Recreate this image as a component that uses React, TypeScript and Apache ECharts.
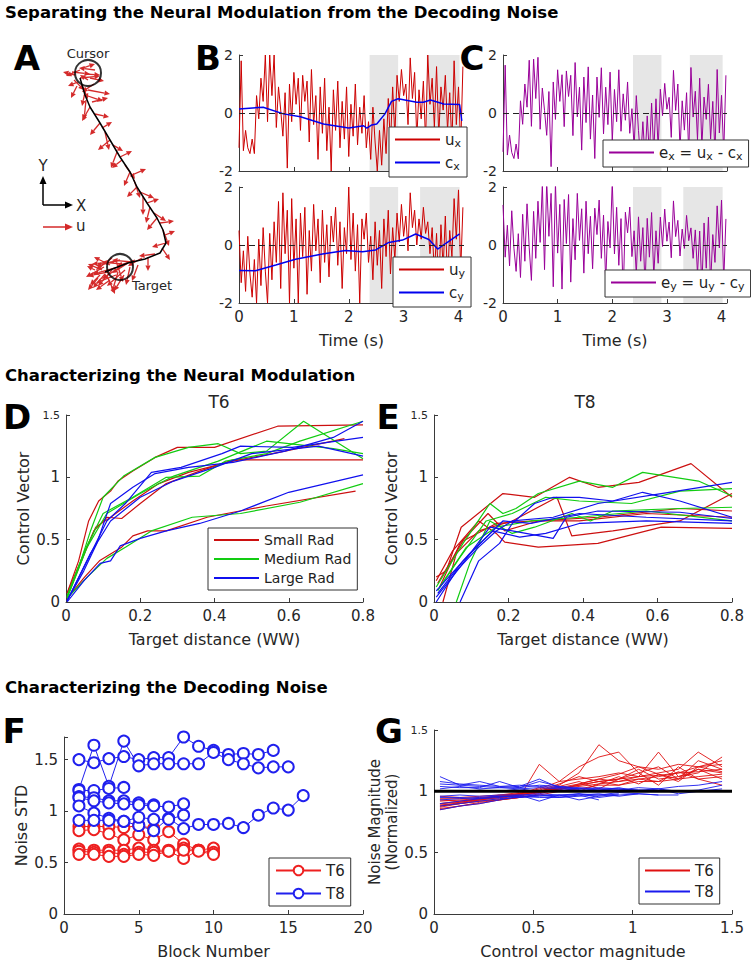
import React, { useEffect, useRef } from "react";
import * as echarts from "echarts";

const FONT = "DejaVu Sans";
const AXIS_COLOR = "#3a3a3a";
const TEXT_COLOR = "#262626";
const U_RED = "#cc0000";
const C_BLUE = "#0000ee";
const E_PURPLE = "#990099";
const D_RED = "#cc1010";
const D_GREEN = "#12cc12";
const D_BLUE = "#1010ee";
const F_RED = "#ee2020";
const F_BLUE = "#2020ee";
const ARROW_RED = "#d42a2a";

// ---------------- Panel A (workspace units, y up)
const trajectory = [
  [30, 222], [35, 205], [40, 193], [50, 177], [60, 160], [70, 143], [80, 128], [87, 113],
  [97, 97], [107, 82], [113, 70], [116, 57], [110, 47], [95, 41], [78, 37], [65, 32], [55, 28],
];
const cursorPos = [38, 227];
const targetPos = [70, 33];
// [x, y, dx, dy]
const controlArrows = [
  [25, 225, -12, 3], [30, 222, 20, 2], [28, 218, -10, -4], [35, 226, 15, -1], [32, 215, 6, -14],
  [38, 220, -8, 5], [27, 214, -6, -12], [40, 222, 14, -3], [22, 228, 18, -2], [45, 230, -16, 2],
  [33, 232, 12, 4], [24, 220, 10, -10], [44, 216, -12, -8], [36, 212, -4, -18], [30, 230, -14, -6],
  [35, 205, 18, -6], [36, 200, -2, -20], [38, 210, 22, -4], [42, 198, 16, 4],
  [40, 193, -8, -14], [45, 186, 14, -3], [50, 177, -10, -12], [52, 172, 10, 6], [55, 168, 4, -18],
  [60, 160, -12, -10], [63, 155, 10, -6], [67, 148, -6, -16], [70, 143, 12, 6], [72, 140, -10, -8],
  [75, 135, 10, -14], [80, 128, -6, -14], [82, 125, 14, 6], [84, 120, 6, -18], [87, 113, -10, -10],
  [90, 108, 14, -6], [93, 103, 0, -18], [97, 97, 12, 4], [100, 93, -4, -16], [104, 87, 12, -8],
  [107, 82, -10, -12], [110, 77, 14, 2], [113, 70, 6, -16], [115, 65, 10, 4], [116, 57, -14, -4],
  [112, 52, 8, -12], [105, 46, -16, -2], [98, 43, 0, -14], [92, 42, -14, -8], [85, 40, -18, -6],
  [78, 37, -16, -10], [72, 36, -20, 2], [70, 33, -18, -12], [65, 32, -22, -6], [62, 30, -14, -16],
  [58, 28, -20, -4], [60, 35, -16, 8], [55, 26, -12, -14], [68, 28, -6, -20], [75, 30, -18, -16],
  [52, 30, -14, 6], [64, 38, -22, -2], [57, 24, 8, -18], [80, 33, -4, -18], [66, 25, -20, -8],
  [50, 25, -10, -10], [48, 22, -10, -12], [70, 40, -24, -6], [60, 20, -14, -10], [74, 25, -10, -16],
  [45, 30, -8, 4], [82, 38, -20, 2], [67, 36, 6, -18], [54, 33, -18, -10], [88, 35, -6, -16],
  [62, 42, -16, -12],
];

// ---------------- Panels B and C (sampled every 0.04 s)
const sampleStep = 0.04;
const uX = [
  -1.2, 1.8, -1.3, -0.6, -1.2, -1.4, -0.9, -1.4, 0.6, -0.2,
  1.2, 0.4, 2.0, -0.3, 2.0, 0.6, 2.0, -0.5, 0.9, 0.1,
  -0.8, 0.7, -1.9, 1.0, -0.3, 1.4, 0.3, 1.2, -0.6, 1.3,
  0.4, 1.1, -1.0, 1.5, -0.4, 0.6, -1.6, 0.9, -0.7, 1.2,
  -1.3, 0.2, -2.0, 0.8, -0.6, 1.1, -1.2, 0.4, -0.9, 0.9,
  -1.5, 0.3, -0.8, 1.0, -1.1, 0.2, -0.7, 0.6, -1.2, -0.3,
  -1.6, 0.2, -1.0, -2.0, -0.6, -1.8, -0.2, -1.4, 0.5, -1.1,
  0.9, -0.8, 1.3, 0.4, 1.5, 0.6, 1.0, -0.4, 1.9, 0.5,
  1.4, -0.9, 0.8, -0.2, 1.1, -1.0, 2.0, 0.3, 1.2, -0.5,
  1.6, -0.8, 0.9, 0.1, 1.3, -0.6, 0.7, -1.1, 1.8, -0.4,
  0.9, -1.2, 1.6,
];
const uY = [
  0.5, -1.3, -0.2, -1.6, 0.3, -1.0, -1.8, -0.5, -2.0, 0.2,
  -1.4, 0.6, -0.9, -2.0, 0.4, -1.2, 0.8, -0.6, 1.5, -1.5,
  1.8, -0.3, 1.2, -2.0, 1.6, -0.8, 0.9, -2.0, 1.1, -0.4,
  1.3, -1.7, 0.5, -0.9, 1.4, -0.2, 0.9, -1.3, 1.2, -0.6,
  0.7, -1.1, 1.0, 0.1, 1.3, -0.7, 0.8, -1.5, 0.6, -0.3,
  2.0, -0.5, 1.1, -0.9, 0.7, -2.0, 0.9, 0.2, 1.1, -0.6,
  0.3, -1.2, 0.8, -0.7, 0.5, -1.5, 0.9, -0.4, 1.2, -1.0,
  0.6, -0.5, 1.1, 0.1, 1.4, 0.3, 1.0, -0.2, 1.8, 0.6,
  1.2, 0.0, 0.9, 0.2, 1.3, 0.4, 0.8, -0.3, 0.6, -1.0,
  0.4, -1.6, 0.7, -0.8, 1.0, -1.3, 0.5, -0.4, 1.6, 0.2,
  1.9, -0.9, 1.3,
];
const eX = [
  -1.34, 1.65, -1.45, -0.76, -1.36, -1.57, -1.07, -1.58, 0.42, -0.39,
  1.0, 0.2, 1.82, -0.46, 1.86, 0.5, 1.92, -0.56, 0.86, 0.09,
  -0.77, 0.74, -1.85, 1.07, -0.22, 1.49, 0.4, 1.32, -0.47, 1.45,
  0.57, 1.3, -0.78, 1.74, -0.13, 0.89, -1.28, 1.24, -0.33, 1.59,
  -0.9, 0.62, -1.57, 1.24, -0.15, 1.56, -0.72, 0.89, -0.4, 1.41,
  -0.98, 0.81, -0.3, 1.49, -0.63, 0.66, -0.25, 1.07, -0.7, 0.15,
  -1.18, 0.6, -0.61, -1.63, -0.3, -1.6, -0.1, -1.44, 0.34, -1.4,
  0.49, -1.24, 0.82, -0.09, 1.02, 0.13, 0.54, -0.84, 1.47, 0.09,
  1.0, -1.27, 0.42, -0.59, 0.7, -1.42, 1.57, -0.14, 0.75, -0.92,
  1.2, -1.18, 0.55, -0.22, 0.99, -0.9, 0.4, -1.4, 1.5, -0.69,
  0.61, -1.4, 1.3,
];
const eY = [
  1.38, -0.42, 0.68, -0.72, 1.18, -0.11, -0.91, 0.39, -1.12, 1.06,
  -0.56, 1.42, -0.1, -1.22, 1.16, -0.46, 1.51, 0.09, 2.1, -0.85,
  2.2, 0.3, 1.78, -1.44, 2.14, -0.28, 1.4, -1.52, 1.57, 0.05,
  1.74, -1.28, 0.91, -0.51, 1.78, 0.16, 1.25, -0.97, 1.51, -0.3,
  0.99, -0.82, 1.27, 0.36, 1.55, -0.46, 1.03, -1.28, 0.81, -0.1,
  2.19, -0.31, 1.3, -0.7, 0.91, -1.78, 1.13, 0.42, 1.31, -0.4,
  0.49, -1.02, 0.97, -0.56, 0.6, -1.44, 0.92, -0.42, 1.12, -1.1,
  0.49, -0.63, 0.96, -0.05, 1.24, 0.13, 0.79, -0.44, 1.52, 0.29,
  0.85, -0.38, 0.55, -0.12, 1.02, 0.15, 0.59, -0.46, 0.52, -1.0,
  0.48, -1.47, 0.76, -0.8, 0.96, -1.38, 0.36, -0.6, 1.35, -0.1,
  1.55, -1.28, 0.9,
];
const cXTime = [0, 0.44, 0.81, 1.12, 1.54, 2.0, 2.27, 2.33, 2.42, 2.51, 2.66, 2.78, 2.9, 3.24, 3.36, 3.49, 3.73, 4.02, 4.06];
const cXVal = [0.14, 0.2, -0.03, -0.13, -0.38, -0.52, -0.44, -0.52, -0.41, -0.38, -0.03, 0.4, 0.49, 0.37, 0.37, 0.45, 0.31, 0.29, -0.27];
const cYTime = [0, 0.3, 0.67, 1.03, 1.52, 1.94, 2.25, 2.49, 2.73, 2.98, 3.22, 3.46, 3.62, 3.77, 4.02];
const cYVal = [-0.88, -0.89, -0.69, -0.49, -0.31, -0.19, -0.23, -0.17, 0.09, 0.17, 0.38, 0.19, -0.14, 0.06, 0.38];
const shadeTop = [[2.38, 2.9], [3.42, 4.02]];
const shadeBottom = [[2.38, 2.9], [3.3, 4.02]];
const timeTicks = { min: 0, max: 4.1, interval: 1 };

// ---------------- Panel D (T6)
const dSmall = [
  [[0.003, 0.07], [0.034, 0.33], [0.061, 0.65], [0.088, 0.81], [0.12, 0.89], [0.14, 0.97], [0.18, 1.05], [0.24, 1.16], [0.3, 1.24], [0.4, 1.24], [0.57, 1.41], [0.8, 1.42]],
  [[0.003, 0.04], [0.05, 0.39], [0.08, 0.6], [0.12, 0.68], [0.18, 0.81], [0.25, 0.95], [0.33, 1.04], [0.45, 1.13], [0.59, 1.21], [0.75, 1.31]],
  [[0.003, 0.07], [0.04, 0.33], [0.075, 0.57], [0.11, 0.68], [0.15, 0.67], [0.2, 0.79], [0.27, 0.95], [0.36, 1.05], [0.45, 1.14], [0.8, 1.14]],
  [[0.003, 0.03], [0.05, 0.2], [0.09, 0.33], [0.15, 0.44], [0.18, 0.53], [0.22, 0.57], [0.27, 0.57], [0.38, 0.68], [0.54, 0.77], [0.78, 0.89]],
];
const dMedium = [
  [[0.003, 0.05], [0.04, 0.33], [0.066, 0.57], [0.1, 0.84], [0.155, 1.01], [0.24, 1.16], [0.33, 1.24], [0.41, 1.27], [0.47, 1.19], [0.54, 1.21], [0.64, 1.45], [0.8, 1.15]],
  [[0.003, 0.04], [0.05, 0.41], [0.1, 0.71], [0.18, 0.84], [0.27, 1.0], [0.36, 1.01], [0.43, 1.13], [0.54, 1.19], [0.63, 1.29], [0.8, 1.45]],
  [[0.003, 0.03], [0.057, 0.44], [0.11, 0.71], [0.2, 0.87], [0.29, 1.01], [0.41, 1.13], [0.54, 1.29], [0.72, 1.23], [0.8, 1.19]],
  [[0.003, 0.03], [0.057, 0.2], [0.11, 0.35], [0.16, 0.44], [0.23, 0.57], [0.34, 0.68], [0.47, 0.71], [0.63, 0.8], [0.8, 0.95]],
];
const dLarge = [
  [[0.003, 0.01], [0.048, 0.25], [0.083, 0.47], [0.12, 0.79], [0.18, 0.92], [0.24, 1.03], [0.33, 1.08], [0.45, 1.12], [0.59, 1.21], [0.72, 1.32], [0.8, 1.45]],
  [[0.003, 0.01], [0.057, 0.33], [0.11, 0.65], [0.16, 0.79], [0.23, 1.04], [0.31, 1.08], [0.42, 1.19], [0.47, 1.25], [0.61, 1.24], [0.8, 1.32]],
  [[0.003, 0.01], [0.066, 0.39], [0.12, 0.65], [0.2, 0.84], [0.29, 0.97], [0.4, 1.08], [0.5, 1.19], [0.68, 1.25], [0.8, 1.17]],
  [[0.003, 0.0], [0.048, 0.17], [0.092, 0.31], [0.12, 0.33], [0.146, 0.45], [0.2, 0.51], [0.27, 0.57], [0.36, 0.63], [0.47, 0.73], [0.6, 0.88], [0.8, 1.02]],
];

// ---------------- Panel E (T8)
const eSmall = [
  [[0.006, 0.2], [0.033, 0.25], [0.073, 0.6], [0.185, 0.87], [0.27, 0.84], [0.364, 1.0], [0.44, 0.92], [0.55, 0.96], [0.69, 1.11], [0.8, 0.84]],
  [[0.024, 0.0], [0.06, 0.39], [0.12, 0.57], [0.21, 0.65], [0.33, 0.84], [0.37, 0.53], [0.48, 0.57], [0.66, 0.65], [0.8, 0.87]],
  [[0.006, 0.17], [0.05, 0.41], [0.12, 0.65], [0.167, 0.55], [0.19, 0.48], [0.28, 0.44], [0.44, 0.47], [0.61, 0.6], [0.8, 0.59]],
  [[0.015, 0.12], [0.07, 0.47], [0.145, 0.71], [0.19, 0.57], [0.28, 0.65], [0.44, 0.68], [0.66, 0.75], [0.8, 0.73]],
  [[0.01, 0.15], [0.078, 0.49], [0.167, 0.63], [0.27, 0.65], [0.39, 0.65], [0.57, 0.71], [0.8, 0.68]],
];
const eMedium = [
  [[0.006, 0.12], [0.078, 0.47], [0.15, 0.79], [0.185, 0.71], [0.22, 0.75], [0.28, 0.87], [0.39, 0.97], [0.48, 0.92], [0.56, 1.04], [0.71, 0.97], [0.8, 0.85]],
  [[0.01, 0.09], [0.07, 0.36], [0.14, 0.65], [0.21, 0.71], [0.3, 0.84], [0.39, 0.81], [0.53, 0.79], [0.66, 0.89], [0.8, 0.91]],
  [[0.06, 0.0], [0.096, 0.31], [0.15, 0.65], [0.21, 0.55], [0.27, 0.6], [0.37, 0.71], [0.42, 0.65], [0.48, 0.73], [0.66, 0.75], [0.8, 0.76]],
  [[0.015, 0.12], [0.087, 0.44], [0.167, 0.6], [0.26, 0.65], [0.39, 0.68], [0.57, 0.73], [0.8, 0.65]],
];
const eLarge = [
  [[0.07, 0.0], [0.12, 0.33], [0.176, 0.47], [0.21, 0.63], [0.27, 0.79], [0.32, 0.84], [0.39, 0.84], [0.48, 0.81], [0.56, 0.88], [0.66, 0.81], [0.8, 0.68]],
  [[0.006, 0.0], [0.06, 0.25], [0.12, 0.44], [0.167, 0.57], [0.21, 0.65], [0.32, 0.68], [0.44, 0.79], [0.61, 0.87], [0.8, 0.96]],
  [[0.01, 0.07], [0.078, 0.33], [0.158, 0.57], [0.23, 0.52], [0.3, 0.55], [0.39, 0.63], [0.57, 0.65], [0.8, 0.63]],
  [[0.006, 0.04], [0.07, 0.28], [0.15, 0.6], [0.21, 0.57], [0.32, 0.51], [0.355, 0.68], [0.44, 0.73], [0.66, 0.72], [0.8, 0.67]],
  [[0.006, 0.09], [0.096, 0.39], [0.185, 0.65], [0.26, 0.63], [0.39, 0.71], [0.57, 0.68], [0.8, 0.65]],
];

// ---------------- Panel F (block number vs noise STD)
const fT6 = [
  [[1, 0.85], [2, 0.85], [3, 0.85], [4, 0.84], [5, 0.86], [6, 0.83]],
  [[1, 0.81], [2, 0.82], [3, 0.78], [4, 0.72], [5, 0.77], [6, 0.72], [7, 0.8], [8, 0.68], [9, 0.62]],
  [[1, 0.63], [2, 0.62], [3, 0.62], [4, 0.62], [5, 0.64], [6, 0.62], [7, 0.62], [8, 0.64], [9, 0.62], [10, 0.64]],
  [[1, 0.61], [2, 0.6], [3, 0.6], [4, 0.58], [5, 0.6], [6, 0.6], [7, 0.61], [8, 0.54], [9, 0.62], [10, 0.6]],
  [[1, 0.58], [2, 0.58], [3, 0.56], [4, 0.56], [5, 0.58], [6, 0.57], [7, 0.61], [8, 0.62], [9, 0.61], [10, 0.58]],
];
const fT8 = [
  [[1, 1.5], [2, 1.47], [3, 1.51], [4, 1.53], [5, 1.5], [6, 1.52], [7, 1.52], [8, 1.72], [9, 1.63], [10, 1.59], [11, 1.55], [12, 1.56], [13, 1.55], [14, 1.59]],
  [[1, 1.21], [2, 1.64], [3, 1.24], [4, 1.68], [5, 1.44], [6, 1.46], [7, 1.46], [8, 1.46], [9, 1.46], [10, 1.57], [11, 1.5], [12, 1.46], [13, 1.42], [14, 1.43], [15, 1.43]],
  [[1, 1.2], [2, 1.2], [3, 1.22], [4, 1.23]],
  [[1, 1.14], [2, 1.13], [3, 1.1], [4, 1.1], [5, 1.08], [6, 1.06]],
  [[1, 1.13], [2, 1.1], [3, 1.08], [4, 1.07], [5, 1.06], [6, 1.05], [7, 1.04], [8, 1.07]],
  [[1, 1.05], [2, 0.98], [3, 0.93], [4, 0.9], [5, 0.86], [6, 0.81], [7, 0.93], [8, 0.83], [9, 0.87], [10, 0.87], [11, 0.88], [12, 0.84], [13, 0.96], [14, 1.03], [15, 1.01], [16, 1.15]],
  [[1, 0.91], [2, 0.91], [3, 0.91], [4, 0.9], [5, 0.94], [6, 0.92], [7, 0.92], [8, 0.96]],
];

// ---------------- Panel G (control magnitude vs normalized noise)
const gX = [0.03, 0.13, 0.23, 0.33, 0.43, 0.53, 0.63, 0.73, 0.83, 0.93, 1.03, 1.13, 1.23, 1.33, 1.45];
const gT6 = [
  [0.86, 0.88, 0.9, 0.93, 0.95, 0.98, 1.02, 1.05, 1.08, 1.1, 1.12, 1.13, 1.15, 1.16, 1.18],
  [0.88, 0.9, 0.92, 0.94, 0.97, 1.0, 1.05, 1.15, 1.38, 1.25, 1.2, 1.18, 1.22, 1.2, 1.25],
  [0.9, 0.91, 0.93, 0.95, 0.98, 1.02, 1.08, 1.2, 1.28, 1.32, 1.15, 1.2, 1.1, 1.18, 1.15],
  [0.92, 0.93, 0.94, 0.95, 0.96, 0.99, 1.03, 1.06, 1.1, 1.08, 1.12, 1.32, 1.12, 1.18, 1.1],
  [0.87, 0.9, 0.92, 0.93, 0.95, 1.22, 1.08, 1.1, 1.12, 1.15, 1.12, 1.15, 1.18, 1.32, 1.2],
  [0.94, 0.94, 0.95, 0.96, 0.97, 0.99, 1.02, 1.05, 1.08, 1.1, 1.18, 1.1, 1.12, 1.15, 1.28],
  [0.85, 0.88, 0.91, 0.93, 0.95, 0.97, 1.0, 1.02, 1.05, 1.05, 1.08, 1.08, 1.1, 1.12, 1.14],
  [0.9, 0.92, 0.93, 0.95, 0.97, 1.0, 1.04, 1.08, 1.02, 1.1, 1.15, 1.05, 1.2, 1.1, 1.12],
  [0.96, 0.95, 0.96, 0.97, 0.98, 1.0, 1.02, 1.04, 1.06, 1.08, 1.1, 1.12, 1.15, 1.2, 1.22],
  [0.89, 0.9, 0.93, 0.96, 0.98, 1.0, 1.03, 1.0, 1.06, 1.12, 1.06, 1.14, 1.08, 1.2, 1.16],
  [0.93, 0.92, 0.94, 0.97, 0.99, 1.01, 1.06, 1.12, 1.08, 1.05, 1.1, 1.08, 1.16, 1.1, 1.05],
  [0.88, 0.91, 0.94, 0.96, 0.98, 1.03, 1.01, 1.06, 1.1, 1.14, 1.2, 1.14, 1.1, 1.25, 1.18],
];
const gT8 = [
  [1.08, 1.06, 1.05, 1.04, 1.05, 1.04, 1.03, 1.02, 1.03, 1.02, 1.01, 1.0],
  [1.06, 1.05, 1.08, 1.04, 1.03, 1.08, 1.04, 1.03, 1.02, 1.02, 1.01, 1.02, 1.0, 1.01, 1.05],
  [1.04, 1.03, 1.03, 1.08, 1.03, 1.05, 1.04, 1.02, 1.01, 1.03, 1.0],
  [1.12, 1.05, 1.04, 1.03, 1.04, 1.1, 1.03, 1.02],
  [1.02, 1.04, 1.02, 1.03, 1.02, 1.03, 1.02, 1.01, 1.0, 1.01, 1.0, 1.02, 0.98, 1.0, 1.02],
  [0.96, 0.97, 0.96, 0.97, 0.97, 0.98, 0.97, 0.97, 0.98, 0.96, 0.98, 0.97],
  [0.93, 0.94, 0.95, 0.96, 0.96, 0.97, 0.95, 0.96, 0.97, 0.97, 0.98],
  [0.9, 0.92, 0.94, 0.95, 0.97, 0.92, 0.97, 0.93, 0.96, 0.98],
  [0.88, 0.9, 0.92, 0.94, 0.95, 0.96, 0.97, 0.98, 0.95, 0.97],
  [0.85, 0.88, 0.9, 0.93, 0.96, 0.95, 0.95, 0.97, 0.93],
  [0.95, 0.95, 0.94, 0.96, 0.95, 0.97, 0.96, 0.98, 0.97, 0.99, 0.98, 0.97, 0.97],
  [1.0, 1.0, 1.01, 1.0, 1.02, 1.0, 1.01, 1.0, 1.02, 1.01, 1.03, 1.02, 1.04, 1.05, 1.08],
];
const gReference = 1;

// ---------------- Text
const sectionTitles = [
  { text: "Separating the Neural Modulation from the Decoding Noise", x: 5, y: 12 },
  { text: "Characterizing the Neural Modulation", x: 5, y: 375 },
  { text: "Characterizing the Decoding Noise", x: 5, y: 687 },
];
const panelLetters = [
  { text: "A", x: 27, y: 58 }, { text: "B", x: 208, y: 58 }, { text: "C", x: 472, y: 58 },
  { text: "D", x: 17, y: 417 }, { text: "E", x: 388, y: 417 },
  { text: "F", x: 14, y: 731 }, { text: "G", x: 389, y: 731 },
];
const legendLabels: Record<string, string> = {
  "B:ux": "u{s|x}", "B:cx": "c{s|x}", "B:uy": "u{s|y}", "B:cy": "c{s|y}",
  "C:ex": "e{s|x} = u{s|x} - c{s|x}", "C:ey": "e{s|y} = u{s|y} - c{s|y}",
  "D:small": "Small Rad", "D:medium": "Medium Rad", "D:large": "Large Rad",
  "F:T6": "T6", "F:T8": "T8", "G:T6": "T6", "G:T8": "T8",
};

const grids = [
  { left: 50, top: 40, width: 130, height: 260 },
  { left: 239, top: 55, width: 225, height: 116 },
  { left: 239, top: 187, width: 225, height: 116 },
  { left: 503, top: 55, width: 224, height: 116 },
  { left: 503, top: 187, width: 224, height: 116 },
  { left: 66, top: 415, width: 297, height: 187 },
  { left: 434, top: 415, width: 298, height: 187 },
  { left: 64, top: 737, width: 299, height: 177 },
  { left: 434, top: 730, width: 298, height: 184 },
];

const intLabel = (v: number) => (Math.abs(v - Math.round(v)) < 1e-6 ? String(Math.round(v)) : "");
const smallTop = (top: number) => (v: number) => (Math.abs(v - top) < 1e-6 ? "{s|" + v + "}" : String(v));

function axis(gridIndex: number, opts: any) {
  const labelShow = opts.labelShow !== false;
  return {
    type: "value",
    gridIndex,
    min: opts.min,
    max: opts.max,
    interval: opts.interval,
    show: opts.show !== false,
    name: opts.name || "",
    nameLocation: "middle",
    nameGap: opts.nameGap || 28,
    nameTextStyle: {
      color: TEXT_COLOR, fontSize: opts.nameSize || 16, fontFamily: FONT, lineHeight: opts.nameLineHeight || 18,
    },
    axisLine: { show: true, onZero: false, lineStyle: { color: AXIS_COLOR, width: 1 } },
    axisTick: { show: true, inside: true, length: 4, lineStyle: { color: AXIS_COLOR } },
    splitLine: { show: false },
    axisLabel: {
      show: labelShow,
      color: TEXT_COLOR,
      fontSize: opts.labelSize || 15,
      lineHeight: opts.labelLineHeight,
      fontFamily: FONT,
      margin: 6,
      formatter: opts.formatter,
      rich: { s: { fontSize: 11, fontFamily: FONT, color: TEXT_COLOR } },
    },
  };
}

function legend(names: string[], left: number, top: number, extra: any = {}) {
  return {
    data: names,
    left,
    top,
    orient: "vertical",
    backgroundColor: "#ffffff",
    borderColor: "#333333",
    borderWidth: 1,
    borderRadius: 0,
    padding: [5, 6, 5, 6],
    itemGap: 6,
    itemWidth: 45,
    itemHeight: 2,
    icon: "rect",
    selectedMode: false,
    formatter: (n: string) => legendLabels[n] || n,
    textStyle: {
      fontFamily: FONT,
      fontSize: 15,
      color: "#222",
      rich: { s: { fontSize: 11, fontFamily: FONT, color: "#222", padding: [8, 0, 0, 0] } },
    },
    z: 20,
    ...extra,
  };
}

const pairs = (vals: number[]) => vals.map((v, i) => [Number((i * sampleStep).toFixed(2)), v]);
const zip = (xs: number[], ys: number[]) => ys.map((y, i) => [xs[i], y]);

function arrowItem(params: any, api: any) {
  const x = api.value(0), y = api.value(1), dx = api.value(2), dy = api.value(3);
  const p0 = api.coord([x, y]);
  const p1 = api.coord([x + dx, y + dy]);
  const ang = Math.atan2(p1[1] - p0[1], p1[0] - p0[0]);
  const h = 5.5, w = 2.6;
  const b = [p1[0] - h * Math.cos(ang), p1[1] - h * Math.sin(ang)];
  const l = [b[0] + w * Math.sin(ang), b[1] - w * Math.cos(ang)];
  const r = [b[0] - w * Math.sin(ang), b[1] + w * Math.cos(ang)];
  return {
    type: "group",
    children: [
      { type: "line", shape: { x1: p0[0], y1: p0[1], x2: b[0], y2: b[1] }, style: { stroke: ARROW_RED, lineWidth: 1.3 } },
      { type: "polygon", shape: { points: [p1, l, r] }, style: { fill: ARROW_RED } },
    ],
  };
}

function buildOption() {
  const series: any[] = [];
  // A
  series.push({ type: "custom", xAxisIndex: 0, yAxisIndex: 0, renderItem: arrowItem, data: controlArrows, z: 2, silent: true });
  series.push({ type: "line", xAxisIndex: 0, yAxisIndex: 0, data: trajectory, symbol: "none", lineStyle: { color: "#000", width: 1.5 }, z: 3, silent: true });
  series.push({
    type: "scatter", xAxisIndex: 0, yAxisIndex: 0, data: [cursorPos, targetPos], symbol: "circle", symbolSize: 26,
    itemStyle: { color: "rgba(0,0,0,0)", borderColor: "#000", borderWidth: 2 }, z: 4, silent: true,
  });

  const zeroLine = {
    silent: true, symbol: "none", label: { show: false },
    lineStyle: { color: "#222", type: [6, 4], width: 1 }, data: [{ yAxis: 0 }],
  };
  const timePanel = (gi: number, shade: number[][], main: number[], mainName: string, mainColor: string, smooth?: { t: number[]; v: number[]; name: string }) => {
    series.push({
      type: "line", xAxisIndex: gi, yAxisIndex: gi, data: [], z: 1, silent: true,
      markArea: { silent: true, itemStyle: { color: "#e6e6e6" }, data: shade.map(([a, b]) => [{ xAxis: a }, { xAxis: b }]) },
    });
    series.push({
      type: "line", name: mainName, xAxisIndex: gi, yAxisIndex: gi, data: pairs(main), symbol: "none",
      lineStyle: { color: mainColor, width: 1 }, itemStyle: { color: mainColor }, z: 2, silent: true,
      markLine: smooth ? undefined : zeroLine,
    });
    if (smooth) {
      series.push({
        type: "line", name: smooth.name, xAxisIndex: gi, yAxisIndex: gi, data: zip(smooth.t, smooth.v), symbol: "none",
        lineStyle: { color: C_BLUE, width: 1.5 }, itemStyle: { color: C_BLUE }, z: 3, silent: true,
        markLine: zeroLine,
      });
    }
  };
  timePanel(1, shadeTop, uX, "B:ux", U_RED, { t: cXTime, v: cXVal, name: "B:cx" });
  timePanel(2, shadeBottom, uY, "B:uy", U_RED, { t: cYTime, v: cYVal, name: "B:cy" });
  timePanel(3, shadeTop, eX, "C:ex", E_PURPLE);
  timePanel(4, shadeBottom, eY, "C:ey", E_PURPLE);

  const lineGroup = (gi: number, lines: number[][][], color: string, legendName: string | null, prefix: string, width = 1.2) => {
    lines.forEach((pts, i) => {
      series.push({
        type: "line", name: i === 0 && legendName ? legendName : prefix + i, xAxisIndex: gi, yAxisIndex: gi,
        data: pts, symbol: "none", lineStyle: { color, width }, itemStyle: { color }, silent: true, z: 2,
      });
    });
  };
  lineGroup(5, dSmall, D_RED, "D:small", "d-small-");
  lineGroup(5, dMedium, D_GREEN, "D:medium", "d-medium-");
  lineGroup(5, dLarge, D_BLUE, "D:large", "d-large-");
  lineGroup(6, eSmall, D_RED, null, "e-small-");
  lineGroup(6, eMedium, D_GREEN, null, "e-medium-");
  lineGroup(6, eLarge, D_BLUE, null, "e-large-");

  const markerGroup = (lines: number[][][], color: string, legendName: string, prefix: string) => {
    lines.forEach((pts, i) => {
      series.push({
        type: "line", name: i === 0 ? legendName : prefix + i, xAxisIndex: 7, yAxisIndex: 7, data: pts,
        symbol: "emptyCircle", symbolSize: 11, showSymbol: true,
        lineStyle: { color, width: 1 }, itemStyle: { color, borderColor: color, borderWidth: 1 }, silent: true, z: 2,
      });
    });
  };
  markerGroup(fT6, F_RED, "F:T6", "f-t6-");
  markerGroup(fT8, F_BLUE, "F:T8", "f-t8-");

  const thinGroup = (lines: number[][], color: string, legendName: string, prefix: string) => {
    lines.forEach((ys, i) => {
      series.push({
        type: "line", name: i === 0 ? legendName : prefix + i, xAxisIndex: 8, yAxisIndex: 8, data: zip(gX, ys),
        symbol: "none", lineStyle: { color, width: 0.9 }, itemStyle: { color }, silent: true, z: 2,
      });
    });
  };
  thinGroup(gT6, "#e01010", "G:T6", "g-t6-");
  thinGroup(gT8, "#1a1aee", "G:T8", "g-t8-");
  series.push({
    type: "line", xAxisIndex: 8, yAxisIndex: 8, data: [[0, gReference], [1.5, gReference]], symbol: "none",
    lineStyle: { color: "#000", width: 3 }, silent: true, z: 5,
  });

  const bcY = { min: -2, max: 2, interval: 2, labelSize: 14, labelLineHeight: 12 };
  const xAxes = [
    axis(0, { min: 0, max: 130, show: false }),
    axis(1, { ...timeTicks, labelShow: false }),
    axis(2, { ...timeTicks, formatter: intLabel, name: "Time (s)", nameGap: 28 }),
    axis(3, { ...timeTicks, labelShow: false }),
    axis(4, { ...timeTicks, formatter: intLabel, name: "Time (s)", nameGap: 28 }),
    axis(5, { min: 0, max: 0.8, interval: 0.2, name: "Target distance (WW)", nameGap: 28 }),
    axis(6, { min: 0, max: 0.8, interval: 0.2, name: "Target distance (WW)", nameGap: 28 }),
    axis(7, { min: 0, max: 20, interval: 5, name: "Block Number", nameGap: 28 }),
    axis(8, { min: 0, max: 1.5, interval: 0.5, name: "Control vector magnitude", nameGap: 28 }),
  ];
  const yAxes = [
    axis(0, { min: 0, max: 260, show: false }),
    axis(1, bcY),
    axis(2, bcY),
    axis(3, bcY),
    axis(4, bcY),
    axis(5, { min: 0, max: 1.5, interval: 0.5, formatter: smallTop(1.5), name: "Control Vector", nameGap: 33 }),
    axis(6, { min: 0, max: 1.5, interval: 0.5, formatter: smallTop(1.5), name: "Control Vector", nameGap: 33 }),
    axis(7, { min: 0, max: 1.72, interval: 0.5, formatter: (v: number) => (v > 1.6 ? "" : String(v)), name: "Noise STD", nameGap: 30 }),
    axis(8, {
      min: 0, max: 1.5, interval: 0.5, formatter: smallTop(1.5), name: "Noise Magnitude\n(Normalized)",
      nameGap: 18, nameLineHeight: 17, nameSize: 15,
    }),
  ];

  const graphic: any[] = [];
  sectionTitles.forEach((t) => graphic.push({
    type: "text", x: t.x, y: t.y, z: 50,
    style: { text: t.text, font: `bold 16.5px "${FONT}"`, fill: "#000", textAlign: "left", textVerticalAlign: "middle" },
  }));
  panelLetters.forEach((t) => graphic.push({
    type: "text", x: t.x, y: t.y, z: 50,
    style: { text: t.text, font: `bold 34px "${FONT}"`, fill: "#000", textAlign: "center", textVerticalAlign: "middle" },
  }));
  const plain = (text: string, x: number, y: number, size: number, align = "center") => ({
    type: "text", x, y, z: 50,
    style: { text, font: `${size}px "${FONT}"`, fill: TEXT_COLOR, textAlign: align, textVerticalAlign: "middle" },
  });
  graphic.push(plain("T6", 219, 402, 17));
  graphic.push(plain("T8", 585, 402, 17));
  graphic.push(plain("Cursor", 88, 53, 13));
  graphic.push(plain("Target", 152, 285, 13));
  // axis key in panel A
  graphic.push({ type: "line", z: 50, shape: { x1: 43, y1: 205, x2: 43, y2: 182 }, style: { stroke: "#000", lineWidth: 1.5 } });
  graphic.push({ type: "polygon", z: 50, shape: { points: [[43, 176], [39.5, 184], [46.5, 184]] }, style: { fill: "#000" } });
  graphic.push({ type: "line", z: 50, shape: { x1: 43, y1: 205, x2: 67, y2: 205 }, style: { stroke: "#000", lineWidth: 1.5 } });
  graphic.push({ type: "polygon", z: 50, shape: { points: [[73, 205], [65, 201.5], [65, 208.5]] }, style: { fill: "#000" } });
  graphic.push({ type: "line", z: 50, shape: { x1: 43, y1: 227, x2: 67, y2: 227 }, style: { stroke: ARROW_RED, lineWidth: 1.5 } });
  graphic.push({ type: "polygon", z: 50, shape: { points: [[73, 227], [65, 223.5], [65, 230.5]] }, style: { fill: ARROW_RED } });
  graphic.push(plain("Y", 43, 166, 15));
  graphic.push(plain("X", 76, 206, 15, "left"));
  graphic.push(plain("u", 76, 226, 15, "left"));

  return {
    animation: false,
    textStyle: { fontFamily: FONT },
    grid: grids,
    xAxis: xAxes,
    yAxis: yAxes,
    legend: [
      legend(["B:ux", "B:cx"], 389, 127),
      legend(["B:uy", "B:cy"], 393, 257),
      legend(["C:ex"], 603, 140),
      legend(["C:ey"], 605, 270),
      legend(["D:small", "D:medium", "D:large"], 208, 528, { itemGap: 5, textStyle: { fontFamily: FONT, fontSize: 14, color: "#222" } }),
      legend(["F:T6", "F:T8"], 269, 858, { itemGap: 8, itemHeight: 12, icon: undefined }),
      legend(["G:T6", "G:T8"], 639, 858, { itemGap: 6 }),
    ],
    graphic,
    series,
  };
}

export default function App() {
  const ref = useRef<HTMLDivElement>(null);
  useEffect(() => {
    document.body.style.margin = "0";
    if (!ref.current) return;
    const chart = echarts.init(ref.current, undefined, { renderer: "svg" });
    chart.setOption(buildOption() as any);
    return () => chart.dispose();
  }, []);
  return (
    <div
      ref={ref}
      style={{ position: "absolute", left: 0, top: 0, width: 751, height: 964, background: "#fff" }}
    />
  );
}
